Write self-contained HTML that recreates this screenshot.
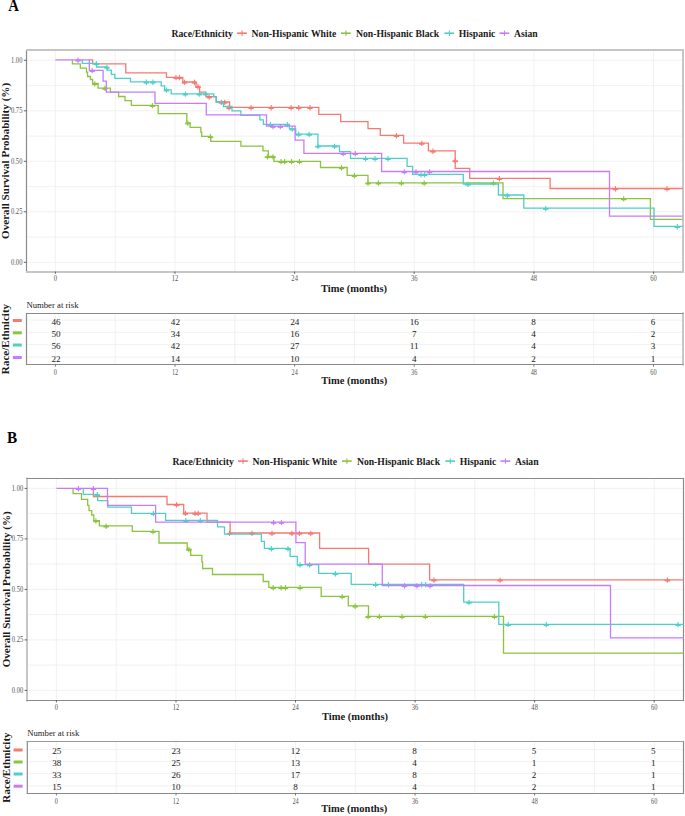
<!DOCTYPE html><html><head><meta charset="utf-8"><style>html,body{margin:0;padding:0;background:#fff;}svg{display:block;}text{font-family:"Liberation Serif",serif;}</style></head><body>
<svg width="685" height="816" viewBox="0 0 685 816">
<rect width="685" height="816" fill="#fff"/>
<text transform="translate(8.2,11.3) scale(0.94,1)" font-size="15.8" font-weight="bold" fill="#000">A</text>
<text x="171.5" y="37.2" font-size="9.7" font-weight="bold" fill="#1a1a1a">Race/Ethnicity</text>
<path d="M237.1,33.2h9.8" stroke="#F47A72" stroke-width="1.6" fill="none"/><path d="M242.1,30.6v5.3" stroke="#F47A72" stroke-width="1.1" fill="none"/>
<text x="251.6" y="37.2" font-size="9.7" font-weight="bold" fill="#1a1a1a">Non-Hispanic White</text>
<path d="M341.0,33.2h9.8" stroke="#8CC43E" stroke-width="1.6" fill="none"/><path d="M346.0,30.6v5.3" stroke="#8CC43E" stroke-width="1.1" fill="none"/>
<text x="356.0" y="37.2" font-size="9.7" font-weight="bold" fill="#1a1a1a">Non-Hispanic Black</text>
<path d="M444.4,33.2h9.8" stroke="#4FCFC8" stroke-width="1.6" fill="none"/><path d="M449.4,30.6v5.3" stroke="#4FCFC8" stroke-width="1.1" fill="none"/>
<text x="458.8" y="37.2" font-size="9.7" font-weight="bold" fill="#1a1a1a">Hispanic</text>
<path d="M499.5,33.2h9.8" stroke="#C77CFF" stroke-width="1.6" fill="none"/><path d="M504.5,30.6v5.3" stroke="#C77CFF" stroke-width="1.1" fill="none"/>
<text x="514.0" y="37.2" font-size="9.7" font-weight="bold" fill="#1a1a1a">Asian</text>
<path d="M55.4,50.3V271.6M115.2,50.3V271.6M175.0,50.3V271.6M234.8,50.3V271.6M294.6,50.3V271.6M354.4,50.3V271.6M414.2,50.3V271.6M474.1,50.3V271.6M533.9,50.3V271.6M593.7,50.3V271.6M653.5,50.3V271.6M26.4,262.3H682.6M26.4,237.1H682.6M26.4,211.8H682.6M26.4,186.6H682.6M26.4,161.3H682.6M26.4,136.1H682.6M26.4,110.8H682.6M26.4,85.6H682.6M26.4,60.3H682.6" stroke="#eeeeee" stroke-width="0.8" fill="none"/>
<path d="M26.50,49.40V272.60" stroke="#8a8a8a" stroke-width="1.2" fill="none"/>
<path d="M683.00,49.00V273.00" stroke="#c6c6c6" stroke-width="2" fill="none"/>
<path d="M26.00,50.00H683.50" stroke="#c6c6c6" stroke-width="2" fill="none"/>
<path d="M26.00,272.00H683.50" stroke="#c6c6c6" stroke-width="2" fill="none"/>
<path d="M23.8,262.3H26.4M23.8,211.8H26.4M23.8,161.3H26.4M23.8,110.8H26.4M23.8,60.3H26.4M55.4,271.6V273.8M175.0,271.6V273.8M294.6,271.6V273.8M414.2,271.6V273.8M533.9,271.6V273.8M653.5,271.6V273.8" stroke="#555" stroke-width="0.9" fill="none"/>
<text transform="translate(22.40,264.80) scale(0.86,1)" text-anchor="end" font-size="7.6" fill="#555555">0.00</text>
<text transform="translate(22.40,214.30) scale(0.86,1)" text-anchor="end" font-size="7.6" fill="#555555">0.25</text>
<text transform="translate(22.40,163.80) scale(0.86,1)" text-anchor="end" font-size="7.6" fill="#555555">0.50</text>
<text transform="translate(22.40,113.30) scale(0.86,1)" text-anchor="end" font-size="7.6" fill="#555555">0.75</text>
<text transform="translate(22.40,62.80) scale(0.86,1)" text-anchor="end" font-size="7.6" fill="#555555">1.00</text>
<text transform="translate(55.40,281.40) scale(0.86,1)" text-anchor="middle" font-size="7.6" fill="#555555">0</text>
<text transform="translate(175.02,281.40) scale(0.86,1)" text-anchor="middle" font-size="7.6" fill="#555555">12</text>
<text transform="translate(294.63,281.40) scale(0.86,1)" text-anchor="middle" font-size="7.6" fill="#555555">24</text>
<text transform="translate(414.25,281.40) scale(0.86,1)" text-anchor="middle" font-size="7.6" fill="#555555">36</text>
<text transform="translate(533.86,281.40) scale(0.86,1)" text-anchor="middle" font-size="7.6" fill="#555555">48</text>
<text transform="translate(653.48,281.40) scale(0.86,1)" text-anchor="middle" font-size="7.6" fill="#555555">60</text>
<path d="M89.3,59.9H92.6V63.8H125.8V72.9H166.5V77.3H182.8V82.0H196.0V86.4H199.6V92.2H205.9V96.7H216.2V102.0H229.6V107.4H318.8V114.4H340.7V121.6H368.0V128.7H380.3V135.4H403.6V143.1H428.4V150.9H455.2V168.4H469.7V178.4H550.1V188.5H682.6" stroke="#F47A72" stroke-width="1.3" fill="none" stroke-linejoin="miter"/>
<path d="M173.3,78.0h5.4" stroke="#F47A72" stroke-width="1.9" fill="none"/><path d="M176.0,75.0v5.3" stroke="#F47A72" stroke-width="1.1" fill="none"/><path d="M176.7,78.0h5.4" stroke="#F47A72" stroke-width="1.9" fill="none"/><path d="M179.4,75.0v5.3" stroke="#F47A72" stroke-width="1.1" fill="none"/><path d="M181.8,82.7h5.4" stroke="#F47A72" stroke-width="1.9" fill="none"/><path d="M184.5,79.7v5.3" stroke="#F47A72" stroke-width="1.1" fill="none"/><path d="M191.8,82.7h5.4" stroke="#F47A72" stroke-width="1.9" fill="none"/><path d="M194.5,79.7v5.3" stroke="#F47A72" stroke-width="1.1" fill="none"/><path d="M195.3,87.1h5.4" stroke="#F47A72" stroke-width="1.9" fill="none"/><path d="M198.0,84.1v5.3" stroke="#F47A72" stroke-width="1.1" fill="none"/><path d="M206.5,97.4h5.4" stroke="#F47A72" stroke-width="1.9" fill="none"/><path d="M209.2,94.4v5.3" stroke="#F47A72" stroke-width="1.1" fill="none"/><path d="M218.6,102.7h5.4" stroke="#F47A72" stroke-width="1.9" fill="none"/><path d="M221.3,99.7v5.3" stroke="#F47A72" stroke-width="1.1" fill="none"/><path d="M222.0,102.7h5.4" stroke="#F47A72" stroke-width="1.9" fill="none"/><path d="M224.7,99.7v5.3" stroke="#F47A72" stroke-width="1.1" fill="none"/><path d="M226.3,108.2h5.4" stroke="#F47A72" stroke-width="1.9" fill="none"/><path d="M229.0,105.2v5.3" stroke="#F47A72" stroke-width="1.1" fill="none"/><path d="M248.4,108.1h5.4" stroke="#F47A72" stroke-width="1.9" fill="none"/><path d="M251.1,105.1v5.3" stroke="#F47A72" stroke-width="1.1" fill="none"/><path d="M268.5,108.1h5.4" stroke="#F47A72" stroke-width="1.9" fill="none"/><path d="M271.2,105.1v5.3" stroke="#F47A72" stroke-width="1.1" fill="none"/><path d="M288.4,108.1h5.4" stroke="#F47A72" stroke-width="1.9" fill="none"/><path d="M291.1,105.1v5.3" stroke="#F47A72" stroke-width="1.1" fill="none"/><path d="M296.0,108.1h5.4" stroke="#F47A72" stroke-width="1.9" fill="none"/><path d="M298.7,105.1v5.3" stroke="#F47A72" stroke-width="1.1" fill="none"/><path d="M307.3,108.1h5.4" stroke="#F47A72" stroke-width="1.9" fill="none"/><path d="M310.0,105.1v5.3" stroke="#F47A72" stroke-width="1.1" fill="none"/><path d="M393.7,136.1h5.4" stroke="#F47A72" stroke-width="1.9" fill="none"/><path d="M396.4,133.1v5.3" stroke="#F47A72" stroke-width="1.1" fill="none"/><path d="M419.1,143.8h5.4" stroke="#F47A72" stroke-width="1.9" fill="none"/><path d="M421.8,140.8v5.3" stroke="#F47A72" stroke-width="1.1" fill="none"/><path d="M430.3,151.6h5.4" stroke="#F47A72" stroke-width="1.9" fill="none"/><path d="M433.0,148.6v5.3" stroke="#F47A72" stroke-width="1.1" fill="none"/><path d="M452.5,161.2h5.4" stroke="#F47A72" stroke-width="1.9" fill="none"/><path d="M455.2,158.2v5.3" stroke="#F47A72" stroke-width="1.1" fill="none"/><path d="M496.7,179.1h5.4" stroke="#F47A72" stroke-width="1.9" fill="none"/><path d="M499.4,176.1v5.3" stroke="#F47A72" stroke-width="1.1" fill="none"/><path d="M612.7,189.2h5.4" stroke="#F47A72" stroke-width="1.9" fill="none"/><path d="M615.4,186.2v5.3" stroke="#F47A72" stroke-width="1.1" fill="none"/><path d="M664.3,189.2h5.4" stroke="#F47A72" stroke-width="1.9" fill="none"/><path d="M667.0,186.2v5.3" stroke="#F47A72" stroke-width="1.1" fill="none"/>
<path d="M72.4,59.9H72.4V63.8H80.3V68.1H86.5V72.1H87.6V76.5H90.4V79.5H92.6V83.5H98.1V88.1H110.4V92.2H118.6V96.5H125.0V100.7H131.4V105.3H158.2V113.6H186.8V122.8H190.1V127.3H200.8V132.2H201.7V136.4H210.8V141.3H240.9V146.2H263.0V150.9H268.3V156.5H273.9V161.3H320.5V167.5H347.2V175.4H368.0V182.8H503.0V198.6H650.4V219.4H682.6" stroke="#8CC43E" stroke-width="1.3" fill="none" stroke-linejoin="miter"/>
<path d="M92.1,84.2h5.4" stroke="#8CC43E" stroke-width="1.9" fill="none"/><path d="M94.8,81.2v5.3" stroke="#8CC43E" stroke-width="1.1" fill="none"/><path d="M102.2,88.8h5.4" stroke="#8CC43E" stroke-width="1.9" fill="none"/><path d="M104.9,85.8v5.3" stroke="#8CC43E" stroke-width="1.1" fill="none"/><path d="M149.7,106.0h5.4" stroke="#8CC43E" stroke-width="1.9" fill="none"/><path d="M152.4,103.0v5.3" stroke="#8CC43E" stroke-width="1.1" fill="none"/><path d="M185.1,123.5h5.4" stroke="#8CC43E" stroke-width="1.9" fill="none"/><path d="M187.8,120.5v5.3" stroke="#8CC43E" stroke-width="1.1" fill="none"/><path d="M207.8,137.1h5.4" stroke="#8CC43E" stroke-width="1.9" fill="none"/><path d="M210.5,134.1v5.3" stroke="#8CC43E" stroke-width="1.1" fill="none"/><path d="M264.7,157.2h5.4" stroke="#8CC43E" stroke-width="1.9" fill="none"/><path d="M267.4,154.2v5.3" stroke="#8CC43E" stroke-width="1.1" fill="none"/><path d="M270.3,157.2h5.4" stroke="#8CC43E" stroke-width="1.9" fill="none"/><path d="M273.0,154.2v5.3" stroke="#8CC43E" stroke-width="1.1" fill="none"/><path d="M278.4,162.0h5.4" stroke="#8CC43E" stroke-width="1.9" fill="none"/><path d="M281.1,159.0v5.3" stroke="#8CC43E" stroke-width="1.1" fill="none"/><path d="M281.9,162.0h5.4" stroke="#8CC43E" stroke-width="1.9" fill="none"/><path d="M284.6,159.0v5.3" stroke="#8CC43E" stroke-width="1.1" fill="none"/><path d="M288.9,162.0h5.4" stroke="#8CC43E" stroke-width="1.9" fill="none"/><path d="M291.6,159.0v5.3" stroke="#8CC43E" stroke-width="1.1" fill="none"/><path d="M296.8,162.0h5.4" stroke="#8CC43E" stroke-width="1.9" fill="none"/><path d="M299.5,159.0v5.3" stroke="#8CC43E" stroke-width="1.1" fill="none"/><path d="M338.8,168.2h5.4" stroke="#8CC43E" stroke-width="1.9" fill="none"/><path d="M341.5,165.2v5.3" stroke="#8CC43E" stroke-width="1.1" fill="none"/><path d="M351.7,176.1h5.4" stroke="#8CC43E" stroke-width="1.9" fill="none"/><path d="M354.4,173.1v5.3" stroke="#8CC43E" stroke-width="1.1" fill="none"/><path d="M365.3,183.5h5.4" stroke="#8CC43E" stroke-width="1.9" fill="none"/><path d="M368.0,180.5v5.3" stroke="#8CC43E" stroke-width="1.1" fill="none"/><path d="M375.7,183.5h5.4" stroke="#8CC43E" stroke-width="1.9" fill="none"/><path d="M378.4,180.5v5.3" stroke="#8CC43E" stroke-width="1.1" fill="none"/><path d="M398.7,183.5h5.4" stroke="#8CC43E" stroke-width="1.9" fill="none"/><path d="M401.4,180.5v5.3" stroke="#8CC43E" stroke-width="1.1" fill="none"/><path d="M421.5,183.5h5.4" stroke="#8CC43E" stroke-width="1.9" fill="none"/><path d="M424.2,180.5v5.3" stroke="#8CC43E" stroke-width="1.1" fill="none"/><path d="M490.6,183.5h5.4" stroke="#8CC43E" stroke-width="1.9" fill="none"/><path d="M493.3,180.5v5.3" stroke="#8CC43E" stroke-width="1.1" fill="none"/><path d="M621.0,199.3h5.4" stroke="#8CC43E" stroke-width="1.9" fill="none"/><path d="M623.7,196.3v5.3" stroke="#8CC43E" stroke-width="1.1" fill="none"/>
<path d="M82.3,59.9H82.3V63.4H96.6V67.0H107.2V70.2H111.3V74.3H114.8V78.3H130.5V81.9H161.2V85.9H164.7V89.8H171.2V93.8H213.7V96.9H216.2V102.0H223.4V106.5H232.0V110.8H240.9V115.4H259.9V119.8H263.4V124.3H289.4V128.8H295.7V134.1H317.9V146.0H339.5V151.6H350.5V158.4H407.1V166.4H412.6V174.4H463.3V184.0H498.4V195.0H523.8V208.2H654.0V226.4H682.6" stroke="#4FCFC8" stroke-width="1.3" fill="none" stroke-linejoin="miter"/>
<path d="M93.6,64.1h5.4" stroke="#4FCFC8" stroke-width="1.9" fill="none"/><path d="M96.3,61.1v5.3" stroke="#4FCFC8" stroke-width="1.1" fill="none"/><path d="M104.2,67.7h5.4" stroke="#4FCFC8" stroke-width="1.9" fill="none"/><path d="M106.9,64.7v5.3" stroke="#4FCFC8" stroke-width="1.1" fill="none"/><path d="M143.6,82.6h5.4" stroke="#4FCFC8" stroke-width="1.9" fill="none"/><path d="M146.3,79.6v5.3" stroke="#4FCFC8" stroke-width="1.1" fill="none"/><path d="M150.2,82.6h5.4" stroke="#4FCFC8" stroke-width="1.9" fill="none"/><path d="M152.9,79.6v5.3" stroke="#4FCFC8" stroke-width="1.1" fill="none"/><path d="M163.7,90.5h5.4" stroke="#4FCFC8" stroke-width="1.9" fill="none"/><path d="M166.4,87.5v5.3" stroke="#4FCFC8" stroke-width="1.1" fill="none"/><path d="M182.6,94.5h5.4" stroke="#4FCFC8" stroke-width="1.9" fill="none"/><path d="M185.3,91.5v5.3" stroke="#4FCFC8" stroke-width="1.1" fill="none"/><path d="M196.6,94.5h5.4" stroke="#4FCFC8" stroke-width="1.9" fill="none"/><path d="M199.3,91.5v5.3" stroke="#4FCFC8" stroke-width="1.1" fill="none"/><path d="M203.1,94.5h5.4" stroke="#4FCFC8" stroke-width="1.9" fill="none"/><path d="M205.8,91.5v5.3" stroke="#4FCFC8" stroke-width="1.1" fill="none"/><path d="M267.7,125.0h5.4" stroke="#4FCFC8" stroke-width="1.9" fill="none"/><path d="M270.4,122.0v5.3" stroke="#4FCFC8" stroke-width="1.1" fill="none"/><path d="M284.6,125.0h5.4" stroke="#4FCFC8" stroke-width="1.9" fill="none"/><path d="M287.3,122.0v5.3" stroke="#4FCFC8" stroke-width="1.1" fill="none"/><path d="M289.5,129.5h5.4" stroke="#4FCFC8" stroke-width="1.9" fill="none"/><path d="M292.2,126.5v5.3" stroke="#4FCFC8" stroke-width="1.1" fill="none"/><path d="M296.0,134.8h5.4" stroke="#4FCFC8" stroke-width="1.9" fill="none"/><path d="M298.7,131.8v5.3" stroke="#4FCFC8" stroke-width="1.1" fill="none"/><path d="M306.5,134.8h5.4" stroke="#4FCFC8" stroke-width="1.9" fill="none"/><path d="M309.2,131.8v5.3" stroke="#4FCFC8" stroke-width="1.1" fill="none"/><path d="M315.2,146.7h5.4" stroke="#4FCFC8" stroke-width="1.9" fill="none"/><path d="M317.9,143.7v5.3" stroke="#4FCFC8" stroke-width="1.1" fill="none"/><path d="M331.9,146.7h5.4" stroke="#4FCFC8" stroke-width="1.9" fill="none"/><path d="M334.6,143.7v5.3" stroke="#4FCFC8" stroke-width="1.1" fill="none"/><path d="M362.8,159.1h5.4" stroke="#4FCFC8" stroke-width="1.9" fill="none"/><path d="M365.5,156.1v5.3" stroke="#4FCFC8" stroke-width="1.1" fill="none"/><path d="M372.3,159.1h5.4" stroke="#4FCFC8" stroke-width="1.9" fill="none"/><path d="M375.0,156.1v5.3" stroke="#4FCFC8" stroke-width="1.1" fill="none"/><path d="M385.3,159.1h5.4" stroke="#4FCFC8" stroke-width="1.9" fill="none"/><path d="M388.0,156.1v5.3" stroke="#4FCFC8" stroke-width="1.1" fill="none"/><path d="M418.3,175.1h5.4" stroke="#4FCFC8" stroke-width="1.9" fill="none"/><path d="M421.0,172.1v5.3" stroke="#4FCFC8" stroke-width="1.1" fill="none"/><path d="M422.0,175.1h5.4" stroke="#4FCFC8" stroke-width="1.9" fill="none"/><path d="M424.7,172.1v5.3" stroke="#4FCFC8" stroke-width="1.1" fill="none"/><path d="M465.3,184.7h5.4" stroke="#4FCFC8" stroke-width="1.9" fill="none"/><path d="M468.0,181.7v5.3" stroke="#4FCFC8" stroke-width="1.1" fill="none"/><path d="M504.5,195.7h5.4" stroke="#4FCFC8" stroke-width="1.9" fill="none"/><path d="M507.2,192.7v5.3" stroke="#4FCFC8" stroke-width="1.1" fill="none"/><path d="M543.0,208.9h5.4" stroke="#4FCFC8" stroke-width="1.9" fill="none"/><path d="M545.7,205.9v5.3" stroke="#4FCFC8" stroke-width="1.1" fill="none"/><path d="M674.6,227.1h5.4" stroke="#4FCFC8" stroke-width="1.9" fill="none"/><path d="M677.3,224.1v5.3" stroke="#4FCFC8" stroke-width="1.1" fill="none"/>
<path d="M55.4,59.9H89.3V70.3H103.1V81.2H106.3V92.2H155.0V103.4H206.3V114.8H266.5V126.2H295.1V140.2H303.9V153.3H381.6V171.5H609.5V216.2H682.6" stroke="#C77CFF" stroke-width="1.3" fill="none" stroke-linejoin="miter"/>
<path d="M75.3,60.6h5.4" stroke="#C77CFF" stroke-width="1.9" fill="none"/><path d="M78.0,57.6v5.3" stroke="#C77CFF" stroke-width="1.1" fill="none"/><path d="M89.5,71.0h5.4" stroke="#C77CFF" stroke-width="1.9" fill="none"/><path d="M92.2,68.0v5.3" stroke="#C77CFF" stroke-width="1.1" fill="none"/><path d="M270.3,126.9h5.4" stroke="#C77CFF" stroke-width="1.9" fill="none"/><path d="M273.0,123.9v5.3" stroke="#C77CFF" stroke-width="1.1" fill="none"/><path d="M277.6,126.9h5.4" stroke="#C77CFF" stroke-width="1.9" fill="none"/><path d="M280.3,123.9v5.3" stroke="#C77CFF" stroke-width="1.1" fill="none"/><path d="M340.5,154.0h5.4" stroke="#C77CFF" stroke-width="1.9" fill="none"/><path d="M343.2,151.0v5.3" stroke="#C77CFF" stroke-width="1.1" fill="none"/><path d="M352.6,154.0h5.4" stroke="#C77CFF" stroke-width="1.9" fill="none"/><path d="M355.3,151.0v5.3" stroke="#C77CFF" stroke-width="1.1" fill="none"/><path d="M401.6,172.2h5.4" stroke="#C77CFF" stroke-width="1.9" fill="none"/><path d="M404.3,169.2v5.3" stroke="#C77CFF" stroke-width="1.1" fill="none"/><path d="M413.3,172.2h5.4" stroke="#C77CFF" stroke-width="1.9" fill="none"/><path d="M416.0,169.2v5.3" stroke="#C77CFF" stroke-width="1.1" fill="none"/><path d="M426.8,172.2h5.4" stroke="#C77CFF" stroke-width="1.9" fill="none"/><path d="M429.5,169.2v5.3" stroke="#C77CFF" stroke-width="1.1" fill="none"/>
<text transform="translate(9.0,160.9) rotate(-90)" text-anchor="middle" font-size="11.1" font-weight="bold" fill="#1a1a1a">Overall Survival Probability (%)</text>
<text x="354.0" y="292.1" text-anchor="middle" font-size="10.5" font-weight="bold" fill="#1a1a1a">Time (months)</text>
<text x="26.4" y="307.8" font-size="8.7" fill="#1a1a1a">Number at risk</text>
<path d="M55.4,313.3V364.7M115.2,313.3V364.7M175.0,313.3V364.7M234.8,313.3V364.7M294.6,313.3V364.7M354.4,313.3V364.7M414.2,313.3V364.7M474.1,313.3V364.7M533.9,313.3V364.7M593.7,313.3V364.7M653.5,313.3V364.7M26.4,320.1H682.6M26.4,332.4H682.6M26.4,344.6H682.6M26.4,357.1H682.6" stroke="#eeeeee" stroke-width="0.8" fill="none"/>
<path d="M26.50,312.90V365.10" stroke="#8a8a8a" stroke-width="1.2" fill="none"/>
<path d="M683.00,312.50V365.50" stroke="#c6c6c6" stroke-width="2" fill="none"/>
<path d="M26.00,313.50H683.50" stroke="#8a8a8a" stroke-width="1.2" fill="none"/>
<path d="M26.00,364.50H683.50" stroke="#8a8a8a" stroke-width="1.2" fill="none"/>
<path d="M55.4,364.7V366.7M175.0,364.7V366.7M294.6,364.7V366.7M414.2,364.7V366.7M533.9,364.7V366.7M653.5,364.7V366.7" stroke="#555" stroke-width="0.8" fill="none"/>
<text x="56.0" y="324.6" text-anchor="middle" font-size="9.1" fill="#1a1a1a">46</text>
<text x="175.4" y="324.6" text-anchor="middle" font-size="9.1" fill="#1a1a1a">42</text>
<text x="294.8" y="324.6" text-anchor="middle" font-size="9.1" fill="#1a1a1a">24</text>
<text x="414.2" y="324.6" text-anchor="middle" font-size="9.1" fill="#1a1a1a">16</text>
<text x="533.6" y="324.6" text-anchor="middle" font-size="9.1" fill="#1a1a1a">8</text>
<text x="653.0" y="324.6" text-anchor="middle" font-size="9.1" fill="#1a1a1a">6</text>
<rect x="12.8" y="319.0" width="9" height="3" fill="#F47A72"/>
<text x="56.0" y="336.9" text-anchor="middle" font-size="9.1" fill="#1a1a1a">50</text>
<text x="175.4" y="336.9" text-anchor="middle" font-size="9.1" fill="#1a1a1a">34</text>
<text x="294.8" y="336.9" text-anchor="middle" font-size="9.1" fill="#1a1a1a">16</text>
<text x="414.2" y="336.9" text-anchor="middle" font-size="9.1" fill="#1a1a1a">7</text>
<text x="533.6" y="336.9" text-anchor="middle" font-size="9.1" fill="#1a1a1a">4</text>
<text x="653.0" y="336.9" text-anchor="middle" font-size="9.1" fill="#1a1a1a">2</text>
<rect x="12.8" y="331.3" width="9" height="3" fill="#8CC43E"/>
<text x="56.0" y="349.1" text-anchor="middle" font-size="9.1" fill="#1a1a1a">56</text>
<text x="175.4" y="349.1" text-anchor="middle" font-size="9.1" fill="#1a1a1a">42</text>
<text x="294.8" y="349.1" text-anchor="middle" font-size="9.1" fill="#1a1a1a">27</text>
<text x="414.2" y="349.1" text-anchor="middle" font-size="9.1" fill="#1a1a1a">11</text>
<text x="533.6" y="349.1" text-anchor="middle" font-size="9.1" fill="#1a1a1a">4</text>
<text x="653.0" y="349.1" text-anchor="middle" font-size="9.1" fill="#1a1a1a">3</text>
<rect x="12.8" y="343.5" width="9" height="3" fill="#4FCFC8"/>
<text x="56.0" y="361.6" text-anchor="middle" font-size="9.1" fill="#1a1a1a">22</text>
<text x="175.4" y="361.6" text-anchor="middle" font-size="9.1" fill="#1a1a1a">14</text>
<text x="294.8" y="361.6" text-anchor="middle" font-size="9.1" fill="#1a1a1a">10</text>
<text x="414.2" y="361.6" text-anchor="middle" font-size="9.1" fill="#1a1a1a">4</text>
<text x="533.6" y="361.6" text-anchor="middle" font-size="9.1" fill="#1a1a1a">2</text>
<text x="653.0" y="361.6" text-anchor="middle" font-size="9.1" fill="#1a1a1a">1</text>
<rect x="12.8" y="356.0" width="9" height="3" fill="#C77CFF"/>
<text transform="translate(55.40,375.00) scale(0.86,1)" text-anchor="middle" font-size="7.3" fill="#555555">0</text>
<text transform="translate(175.02,375.00) scale(0.86,1)" text-anchor="middle" font-size="7.3" fill="#555555">12</text>
<text transform="translate(294.63,375.00) scale(0.86,1)" text-anchor="middle" font-size="7.3" fill="#555555">24</text>
<text transform="translate(414.25,375.00) scale(0.86,1)" text-anchor="middle" font-size="7.3" fill="#555555">36</text>
<text transform="translate(533.86,375.00) scale(0.86,1)" text-anchor="middle" font-size="7.3" fill="#555555">48</text>
<text transform="translate(653.48,375.00) scale(0.86,1)" text-anchor="middle" font-size="7.3" fill="#555555">60</text>
<text transform="translate(8.8,339.0) rotate(-90)" text-anchor="middle" font-size="11.1" font-weight="bold" fill="#1a1a1a">Race/Ethnicity</text>
<text x="354.3" y="384.2" text-anchor="middle" font-size="10.5" font-weight="bold" fill="#1a1a1a">Time (months)</text>
<text transform="translate(7.0,443.0) scale(0.94,1)" font-size="16.2" font-weight="bold" fill="#000">B</text>
<text x="172.4" y="465.1" font-size="9.7" font-weight="bold" fill="#1a1a1a">Race/Ethnicity</text>
<path d="M238.0,461.1h9.8" stroke="#F47A72" stroke-width="1.6" fill="none"/><path d="M243.0,458.5v5.3" stroke="#F47A72" stroke-width="1.1" fill="none"/>
<text x="252.5" y="465.1" font-size="9.7" font-weight="bold" fill="#1a1a1a">Non-Hispanic White</text>
<path d="M341.9,461.1h9.8" stroke="#8CC43E" stroke-width="1.6" fill="none"/><path d="M346.9,458.5v5.3" stroke="#8CC43E" stroke-width="1.1" fill="none"/>
<text x="356.9" y="465.1" font-size="9.7" font-weight="bold" fill="#1a1a1a">Non-Hispanic Black</text>
<path d="M445.3,461.1h9.8" stroke="#4FCFC8" stroke-width="1.6" fill="none"/><path d="M450.3,458.5v5.3" stroke="#4FCFC8" stroke-width="1.1" fill="none"/>
<text x="459.7" y="465.1" font-size="9.7" font-weight="bold" fill="#1a1a1a">Hispanic</text>
<path d="M500.4,461.1h9.8" stroke="#C77CFF" stroke-width="1.6" fill="none"/><path d="M505.4,458.5v5.3" stroke="#C77CFF" stroke-width="1.1" fill="none"/>
<text x="514.9" y="465.1" font-size="9.7" font-weight="bold" fill="#1a1a1a">Asian</text>
<path d="M56.4,478.6V700.3M116.2,478.6V700.3M176.0,478.6V700.3M235.7,478.6V700.3M295.5,478.6V700.3M355.3,478.6V700.3M415.1,478.6V700.3M474.8,478.6V700.3M534.6,478.6V700.3M594.4,478.6V700.3M654.2,478.6V700.3M27.2,690.4H683.6M27.2,665.1H683.6M27.2,639.9H683.6M27.2,614.6H683.6M27.2,589.4H683.6M27.2,564.1H683.6M27.2,538.9H683.6M27.2,513.6H683.6M27.2,488.4H683.6" stroke="#eeeeee" stroke-width="0.8" fill="none"/>
<path d="M27.00,477.50V701.50" stroke="#c6c6c6" stroke-width="2" fill="none"/>
<path d="M683.50,477.90V701.10" stroke="#8a8a8a" stroke-width="1.2" fill="none"/>
<path d="M26.50,478.50H684.00" stroke="#8a8a8a" stroke-width="1.2" fill="none"/>
<path d="M26.50,700.50H684.00" stroke="#8a8a8a" stroke-width="1.2" fill="none"/>
<path d="M24.6,690.4H27.2M24.6,639.9H27.2M24.6,589.4H27.2M24.6,538.9H27.2M24.6,488.4H27.2M56.4,700.3V702.5M176.0,700.3V702.5M295.5,700.3V702.5M415.1,700.3V702.5M534.6,700.3V702.5M654.2,700.3V702.5" stroke="#555" stroke-width="0.9" fill="none"/>
<text transform="translate(23.20,692.90) scale(0.86,1)" text-anchor="end" font-size="7.6" fill="#555555">0.00</text>
<text transform="translate(23.20,642.40) scale(0.86,1)" text-anchor="end" font-size="7.6" fill="#555555">0.25</text>
<text transform="translate(23.20,591.90) scale(0.86,1)" text-anchor="end" font-size="7.6" fill="#555555">0.50</text>
<text transform="translate(23.20,541.40) scale(0.86,1)" text-anchor="end" font-size="7.6" fill="#555555">0.75</text>
<text transform="translate(23.20,490.90) scale(0.86,1)" text-anchor="end" font-size="7.6" fill="#555555">1.00</text>
<text transform="translate(56.40,710.10) scale(0.86,1)" text-anchor="middle" font-size="7.6" fill="#555555">0</text>
<text transform="translate(175.96,710.10) scale(0.86,1)" text-anchor="middle" font-size="7.6" fill="#555555">12</text>
<text transform="translate(295.51,710.10) scale(0.86,1)" text-anchor="middle" font-size="7.6" fill="#555555">24</text>
<text transform="translate(415.07,710.10) scale(0.86,1)" text-anchor="middle" font-size="7.6" fill="#555555">36</text>
<text transform="translate(534.62,710.10) scale(0.86,1)" text-anchor="middle" font-size="7.6" fill="#555555">48</text>
<text transform="translate(654.18,710.10) scale(0.86,1)" text-anchor="middle" font-size="7.6" fill="#555555">60</text>
<path d="M93.4,488.4H93.4V496.5H167.0V504.5H183.7V513.1H207.0V522.1H230.1V533.0H319.6V548.4H368.6V564.2H429.6V579.8H683.6" stroke="#F47A72" stroke-width="1.3" fill="none" stroke-linejoin="miter"/>
<path d="M173.9,505.2h5.4" stroke="#F47A72" stroke-width="1.9" fill="none"/><path d="M176.6,502.2v5.3" stroke="#F47A72" stroke-width="1.1" fill="none"/><path d="M182.7,513.8h5.4" stroke="#F47A72" stroke-width="1.9" fill="none"/><path d="M185.4,510.8v5.3" stroke="#F47A72" stroke-width="1.1" fill="none"/><path d="M192.3,513.8h5.4" stroke="#F47A72" stroke-width="1.9" fill="none"/><path d="M195.0,510.8v5.3" stroke="#F47A72" stroke-width="1.1" fill="none"/><path d="M195.5,513.8h5.4" stroke="#F47A72" stroke-width="1.9" fill="none"/><path d="M198.2,510.8v5.3" stroke="#F47A72" stroke-width="1.1" fill="none"/><path d="M226.8,533.7h5.4" stroke="#F47A72" stroke-width="1.9" fill="none"/><path d="M229.5,530.7v5.3" stroke="#F47A72" stroke-width="1.1" fill="none"/><path d="M249.3,533.7h5.4" stroke="#F47A72" stroke-width="1.9" fill="none"/><path d="M252.0,530.7v5.3" stroke="#F47A72" stroke-width="1.1" fill="none"/><path d="M269.3,533.7h5.4" stroke="#F47A72" stroke-width="1.9" fill="none"/><path d="M272.0,530.7v5.3" stroke="#F47A72" stroke-width="1.1" fill="none"/><path d="M289.2,533.7h5.4" stroke="#F47A72" stroke-width="1.9" fill="none"/><path d="M291.9,530.7v5.3" stroke="#F47A72" stroke-width="1.1" fill="none"/><path d="M296.7,533.7h5.4" stroke="#F47A72" stroke-width="1.9" fill="none"/><path d="M299.4,530.7v5.3" stroke="#F47A72" stroke-width="1.1" fill="none"/><path d="M308.1,533.7h5.4" stroke="#F47A72" stroke-width="1.9" fill="none"/><path d="M310.8,530.7v5.3" stroke="#F47A72" stroke-width="1.1" fill="none"/><path d="M431.3,580.5h5.4" stroke="#F47A72" stroke-width="1.9" fill="none"/><path d="M434.0,577.5v5.3" stroke="#F47A72" stroke-width="1.1" fill="none"/><path d="M497.4,580.5h5.4" stroke="#F47A72" stroke-width="1.9" fill="none"/><path d="M500.1,577.5v5.3" stroke="#F47A72" stroke-width="1.1" fill="none"/><path d="M664.7,580.5h5.4" stroke="#F47A72" stroke-width="1.9" fill="none"/><path d="M667.4,577.5v5.3" stroke="#F47A72" stroke-width="1.1" fill="none"/>
<path d="M73.1,488.4H73.1V493.7H81.5V499.3H87.7V505.4H89.0V510.7H91.7V515.0H93.8V520.6H99.4V525.9H132.3V531.3H159.0V543.0H187.2V549.2H190.7V555.3H201.9V561.9H202.6V568.5H212.5V574.5H263.2V581.5H268.8V587.4H321.2V596.3H348.3V605.9H368.5V616.3H503.5V653.1H683.6" stroke="#8CC43E" stroke-width="1.3" fill="none" stroke-linejoin="miter"/>
<path d="M93.2,521.3h5.4" stroke="#8CC43E" stroke-width="1.9" fill="none"/><path d="M95.9,518.3v5.3" stroke="#8CC43E" stroke-width="1.1" fill="none"/><path d="M103.4,526.6h5.4" stroke="#8CC43E" stroke-width="1.9" fill="none"/><path d="M106.1,523.6v5.3" stroke="#8CC43E" stroke-width="1.1" fill="none"/><path d="M150.3,532.0h5.4" stroke="#8CC43E" stroke-width="1.9" fill="none"/><path d="M153.0,529.0v5.3" stroke="#8CC43E" stroke-width="1.1" fill="none"/><path d="M186.2,549.9h5.4" stroke="#8CC43E" stroke-width="1.9" fill="none"/><path d="M188.9,546.9v5.3" stroke="#8CC43E" stroke-width="1.1" fill="none"/><path d="M270.5,588.1h5.4" stroke="#8CC43E" stroke-width="1.9" fill="none"/><path d="M273.2,585.1v5.3" stroke="#8CC43E" stroke-width="1.1" fill="none"/><path d="M278.4,588.1h5.4" stroke="#8CC43E" stroke-width="1.9" fill="none"/><path d="M281.1,585.1v5.3" stroke="#8CC43E" stroke-width="1.1" fill="none"/><path d="M282.8,588.1h5.4" stroke="#8CC43E" stroke-width="1.9" fill="none"/><path d="M285.5,585.1v5.3" stroke="#8CC43E" stroke-width="1.1" fill="none"/><path d="M297.4,588.1h5.4" stroke="#8CC43E" stroke-width="1.9" fill="none"/><path d="M300.1,585.1v5.3" stroke="#8CC43E" stroke-width="1.1" fill="none"/><path d="M339.5,597.0h5.4" stroke="#8CC43E" stroke-width="1.9" fill="none"/><path d="M342.2,594.0v5.3" stroke="#8CC43E" stroke-width="1.1" fill="none"/><path d="M352.5,606.6h5.4" stroke="#8CC43E" stroke-width="1.9" fill="none"/><path d="M355.2,603.6v5.3" stroke="#8CC43E" stroke-width="1.1" fill="none"/><path d="M365.4,617.0h5.4" stroke="#8CC43E" stroke-width="1.9" fill="none"/><path d="M368.1,614.0v5.3" stroke="#8CC43E" stroke-width="1.1" fill="none"/><path d="M376.7,617.0h5.4" stroke="#8CC43E" stroke-width="1.9" fill="none"/><path d="M379.4,614.0v5.3" stroke="#8CC43E" stroke-width="1.1" fill="none"/><path d="M399.4,617.0h5.4" stroke="#8CC43E" stroke-width="1.9" fill="none"/><path d="M402.1,614.0v5.3" stroke="#8CC43E" stroke-width="1.1" fill="none"/><path d="M422.6,617.0h5.4" stroke="#8CC43E" stroke-width="1.9" fill="none"/><path d="M425.3,614.0v5.3" stroke="#8CC43E" stroke-width="1.1" fill="none"/><path d="M491.7,617.0h5.4" stroke="#8CC43E" stroke-width="1.9" fill="none"/><path d="M494.4,614.0v5.3" stroke="#8CC43E" stroke-width="1.1" fill="none"/>
<path d="M83.3,488.4H83.3V494.4H97.7V500.7H107.8V507.2H131.5V513.3H165.6V520.3H217.5V526.8H224.5V534.1H261.4V541.4H264.4V548.4H290.1V556.3H297.3V564.6H318.7V573.4H351.2V584.4H463.7V602.1H498.8V624.3H683.6" stroke="#4FCFC8" stroke-width="1.3" fill="none" stroke-linejoin="miter"/>
<path d="M94.6,495.1h5.4" stroke="#4FCFC8" stroke-width="1.9" fill="none"/><path d="M97.3,492.1v5.3" stroke="#4FCFC8" stroke-width="1.1" fill="none"/><path d="M150.7,514.0h5.4" stroke="#4FCFC8" stroke-width="1.9" fill="none"/><path d="M153.4,511.0v5.3" stroke="#4FCFC8" stroke-width="1.1" fill="none"/><path d="M183.2,521.0h5.4" stroke="#4FCFC8" stroke-width="1.9" fill="none"/><path d="M185.9,518.0v5.3" stroke="#4FCFC8" stroke-width="1.1" fill="none"/><path d="M197.6,521.0h5.4" stroke="#4FCFC8" stroke-width="1.9" fill="none"/><path d="M200.3,518.0v5.3" stroke="#4FCFC8" stroke-width="1.1" fill="none"/><path d="M268.6,549.1h5.4" stroke="#4FCFC8" stroke-width="1.9" fill="none"/><path d="M271.3,546.1v5.3" stroke="#4FCFC8" stroke-width="1.1" fill="none"/><path d="M285.3,549.1h5.4" stroke="#4FCFC8" stroke-width="1.9" fill="none"/><path d="M288.0,546.1v5.3" stroke="#4FCFC8" stroke-width="1.1" fill="none"/><path d="M297.3,565.3h5.4" stroke="#4FCFC8" stroke-width="1.9" fill="none"/><path d="M300.0,562.3v5.3" stroke="#4FCFC8" stroke-width="1.1" fill="none"/><path d="M306.9,565.3h5.4" stroke="#4FCFC8" stroke-width="1.9" fill="none"/><path d="M309.6,562.3v5.3" stroke="#4FCFC8" stroke-width="1.1" fill="none"/><path d="M332.7,574.1h5.4" stroke="#4FCFC8" stroke-width="1.9" fill="none"/><path d="M335.4,571.1v5.3" stroke="#4FCFC8" stroke-width="1.1" fill="none"/><path d="M373.0,585.1h5.4" stroke="#4FCFC8" stroke-width="1.9" fill="none"/><path d="M375.7,582.1v5.3" stroke="#4FCFC8" stroke-width="1.1" fill="none"/><path d="M385.8,585.1h5.4" stroke="#4FCFC8" stroke-width="1.9" fill="none"/><path d="M388.5,582.1v5.3" stroke="#4FCFC8" stroke-width="1.1" fill="none"/><path d="M419.0,585.1h5.4" stroke="#4FCFC8" stroke-width="1.9" fill="none"/><path d="M421.7,582.1v5.3" stroke="#4FCFC8" stroke-width="1.1" fill="none"/><path d="M423.0,585.1h5.4" stroke="#4FCFC8" stroke-width="1.9" fill="none"/><path d="M425.7,582.1v5.3" stroke="#4FCFC8" stroke-width="1.1" fill="none"/><path d="M466.3,602.8h5.4" stroke="#4FCFC8" stroke-width="1.9" fill="none"/><path d="M469.0,599.8v5.3" stroke="#4FCFC8" stroke-width="1.1" fill="none"/><path d="M505.5,625.0h5.4" stroke="#4FCFC8" stroke-width="1.9" fill="none"/><path d="M508.2,622.0v5.3" stroke="#4FCFC8" stroke-width="1.1" fill="none"/><path d="M543.5,625.0h5.4" stroke="#4FCFC8" stroke-width="1.9" fill="none"/><path d="M546.2,622.0v5.3" stroke="#4FCFC8" stroke-width="1.1" fill="none"/><path d="M675.4,625.0h5.4" stroke="#4FCFC8" stroke-width="1.9" fill="none"/><path d="M678.1,622.0v5.3" stroke="#4FCFC8" stroke-width="1.1" fill="none"/>
<path d="M56.4,488.4H107.5V505.4H155.6V522.2H295.9V542.7H305.2V564.2H382.3V585.5H610.5V637.8H683.6" stroke="#C77CFF" stroke-width="1.3" fill="none" stroke-linejoin="miter"/>
<path d="M75.7,489.1h5.4" stroke="#C77CFF" stroke-width="1.9" fill="none"/><path d="M78.4,486.1v5.3" stroke="#C77CFF" stroke-width="1.1" fill="none"/><path d="M90.7,489.1h5.4" stroke="#C77CFF" stroke-width="1.9" fill="none"/><path d="M93.4,486.1v5.3" stroke="#C77CFF" stroke-width="1.1" fill="none"/><path d="M270.9,522.9h5.4" stroke="#C77CFF" stroke-width="1.9" fill="none"/><path d="M273.6,519.9v5.3" stroke="#C77CFF" stroke-width="1.1" fill="none"/><path d="M278.7,522.9h5.4" stroke="#C77CFF" stroke-width="1.9" fill="none"/><path d="M281.4,519.9v5.3" stroke="#C77CFF" stroke-width="1.1" fill="none"/><path d="M401.8,586.2h5.4" stroke="#C77CFF" stroke-width="1.9" fill="none"/><path d="M404.5,583.2v5.3" stroke="#C77CFF" stroke-width="1.1" fill="none"/><path d="M414.2,586.2h5.4" stroke="#C77CFF" stroke-width="1.9" fill="none"/><path d="M416.9,583.2v5.3" stroke="#C77CFF" stroke-width="1.1" fill="none"/><path d="M427.3,586.2h5.4" stroke="#C77CFF" stroke-width="1.9" fill="none"/><path d="M430.0,583.2v5.3" stroke="#C77CFF" stroke-width="1.1" fill="none"/>
<text transform="translate(9.8,589.3) rotate(-90)" text-anchor="middle" font-size="11.1" font-weight="bold" fill="#1a1a1a">Overall Survival Probability (%)</text>
<text x="355.0" y="720.4" text-anchor="middle" font-size="10.5" font-weight="bold" fill="#1a1a1a">Time (months)</text>
<text x="27.2" y="735.9" font-size="8.7" fill="#1a1a1a">Number at risk</text>
<path d="M56.4,741.4V793.5M116.2,741.4V793.5M176.0,741.4V793.5M235.7,741.4V793.5M295.5,741.4V793.5M355.3,741.4V793.5M415.1,741.4V793.5M474.8,741.4V793.5M534.6,741.4V793.5M594.4,741.4V793.5M654.2,741.4V793.5M27.2,749.6H683.6M27.2,761.6H683.6M27.2,773.6H683.6M27.2,785.8H683.6" stroke="#eeeeee" stroke-width="0.8" fill="none"/>
<path d="M27.30,740.90V794.10" stroke="#8a8a8a" stroke-width="1.2" fill="none"/>
<path d="M683.50,740.90V794.10" stroke="#8a8a8a" stroke-width="1.2" fill="none"/>
<path d="M26.70,741.50H684.00" stroke="#9a9a9a" stroke-width="1.2" fill="none"/>
<path d="M26.70,793.50H684.00" stroke="#8a8a8a" stroke-width="1.2" fill="none"/>
<path d="M56.4,793.5V795.5M176.0,793.5V795.5M295.5,793.5V795.5M415.1,793.5V795.5M534.6,793.5V795.5M654.2,793.5V795.5" stroke="#555" stroke-width="0.8" fill="none"/>
<text x="56.8" y="754.1" text-anchor="middle" font-size="9.1" fill="#1a1a1a">25</text>
<text x="176.1" y="754.1" text-anchor="middle" font-size="9.1" fill="#1a1a1a">23</text>
<text x="295.4" y="754.1" text-anchor="middle" font-size="9.1" fill="#1a1a1a">12</text>
<text x="414.6" y="754.1" text-anchor="middle" font-size="9.1" fill="#1a1a1a">8</text>
<text x="533.9" y="754.1" text-anchor="middle" font-size="9.1" fill="#1a1a1a">5</text>
<text x="653.2" y="754.1" text-anchor="middle" font-size="9.1" fill="#1a1a1a">5</text>
<rect x="13.6" y="748.5" width="9" height="3" fill="#F47A72"/>
<text x="56.8" y="766.1" text-anchor="middle" font-size="9.1" fill="#1a1a1a">38</text>
<text x="176.1" y="766.1" text-anchor="middle" font-size="9.1" fill="#1a1a1a">25</text>
<text x="295.4" y="766.1" text-anchor="middle" font-size="9.1" fill="#1a1a1a">13</text>
<text x="414.6" y="766.1" text-anchor="middle" font-size="9.1" fill="#1a1a1a">4</text>
<text x="533.9" y="766.1" text-anchor="middle" font-size="9.1" fill="#1a1a1a">1</text>
<text x="653.2" y="766.1" text-anchor="middle" font-size="9.1" fill="#1a1a1a">1</text>
<rect x="13.6" y="760.5" width="9" height="3" fill="#8CC43E"/>
<text x="56.8" y="778.1" text-anchor="middle" font-size="9.1" fill="#1a1a1a">33</text>
<text x="176.1" y="778.1" text-anchor="middle" font-size="9.1" fill="#1a1a1a">26</text>
<text x="295.4" y="778.1" text-anchor="middle" font-size="9.1" fill="#1a1a1a">17</text>
<text x="414.6" y="778.1" text-anchor="middle" font-size="9.1" fill="#1a1a1a">8</text>
<text x="533.9" y="778.1" text-anchor="middle" font-size="9.1" fill="#1a1a1a">2</text>
<text x="653.2" y="778.1" text-anchor="middle" font-size="9.1" fill="#1a1a1a">1</text>
<rect x="13.6" y="772.5" width="9" height="3" fill="#4FCFC8"/>
<text x="56.8" y="790.3" text-anchor="middle" font-size="9.1" fill="#1a1a1a">15</text>
<text x="176.1" y="790.3" text-anchor="middle" font-size="9.1" fill="#1a1a1a">10</text>
<text x="295.4" y="790.3" text-anchor="middle" font-size="9.1" fill="#1a1a1a">8</text>
<text x="414.6" y="790.3" text-anchor="middle" font-size="9.1" fill="#1a1a1a">4</text>
<text x="533.9" y="790.3" text-anchor="middle" font-size="9.1" fill="#1a1a1a">2</text>
<text x="653.2" y="790.3" text-anchor="middle" font-size="9.1" fill="#1a1a1a">1</text>
<rect x="13.6" y="784.7" width="9" height="3" fill="#C77CFF"/>
<text transform="translate(56.40,803.80) scale(0.86,1)" text-anchor="middle" font-size="7.3" fill="#555555">0</text>
<text transform="translate(175.96,803.80) scale(0.86,1)" text-anchor="middle" font-size="7.3" fill="#555555">12</text>
<text transform="translate(295.51,803.80) scale(0.86,1)" text-anchor="middle" font-size="7.3" fill="#555555">24</text>
<text transform="translate(415.07,803.80) scale(0.86,1)" text-anchor="middle" font-size="7.3" fill="#555555">36</text>
<text transform="translate(534.62,803.80) scale(0.86,1)" text-anchor="middle" font-size="7.3" fill="#555555">48</text>
<text transform="translate(654.18,803.80) scale(0.86,1)" text-anchor="middle" font-size="7.3" fill="#555555">60</text>
<text transform="translate(10.1,767.5) rotate(-90)" text-anchor="middle" font-size="11.1" font-weight="bold" fill="#1a1a1a">Race/Ethnicity</text>
<text x="354.3" y="812.3" text-anchor="middle" font-size="10.5" font-weight="bold" fill="#1a1a1a">Time (months)</text>
</svg></body></html>
